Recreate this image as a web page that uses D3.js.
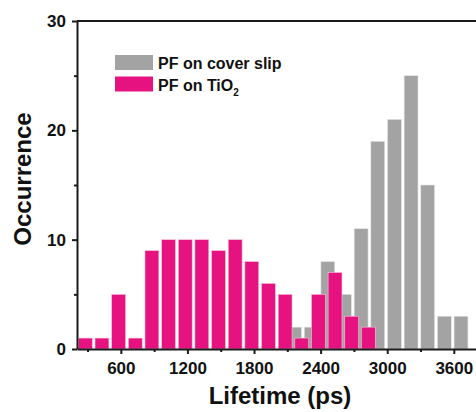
<!DOCTYPE html>
<html>
<head>
<meta charset="utf-8">
<script src="https://cdn.jsdelivr.net/npm/d3@7"></script>
<style>
  html, body { margin: 0; padding: 0; background: #fff; }
  svg text { font-family: "Liberation Sans", Arial, sans-serif; font-weight: bold; fill: #111; }
</style>
</head>
<body>
<script>
/* histogram bins (bin centre, ps) and counts */
const pinkLifetime = [280, 430, 580, 730, 880, 1030, 1180, 1330, 1480, 1630, 1780, 1930, 2080, 2230, 2380, 2530, 2680, 2830];
const pinkCount = [1, 1, 5, 1, 9, 10, 10, 10, 9, 10, 8, 6, 5, 1, 5, 7, 3, 2];
const grayLifetime = [2165, 2315, 2465, 2615, 2765, 2915, 3065, 3215, 3365, 3515, 3665];
const grayCount = [2, 2, 8, 5, 11, 19, 21, 25, 15, 3, 3];
const xTicks = [600, 1200, 1800, 2400, 3000, 3600];
const xMinorTicks = [300, 900, 1500, 2100, 2700, 3300];
const yTicks = [0, 10, 20, 30];
const yMinorTicks = [5, 15, 25];
const legendLabels = ['PF on cover slip', 'PF on TiO'];
const binWidth = 125;

let width = 476;
let height = 412;
let plot = { left: 77, right: 476, top: 21, bottom: 349 };

let x = d3.scaleLinear().domain([205, 3800]).range([plot.left, plot.right]);
let y = d3.scaleLinear().domain([0, 30]).range([plot.bottom, plot.top]);

let svg = d3.select('body').append('svg')
    .attr('width', width)
    .attr('height', height);

/* bars: cover slip behind, TiO2 in front */
let barW = x(binWidth) - x(0);
svg.append('g').selectAll('rect')
    .data(grayLifetime.map((t, i) => ({ t, c: grayCount[i] })))
    .join('rect')
    .attr('x', d => x(d.t) - barW / 2)
    .attr('y', d => y(d.c))
    .attr('width', barW)
    .attr('height', d => y(0) - y(d.c))
    .attr('fill', '#a3a3a3')
    .attr('stroke', '#e4e4e4')
    .attr('stroke-width', 0.6);

svg.append('g').selectAll('rect')
    .data(pinkLifetime.map((t, i) => ({ t, c: pinkCount[i] })))
    .join('rect')
    .attr('x', d => x(d.t) - barW / 2)
    .attr('y', d => y(d.c))
    .attr('width', barW)
    .attr('height', d => y(0) - y(d.c))
    .attr('fill', '#e6127f')
    .attr('stroke', '#f6c6dc')
    .attr('stroke-width', 0.6);

/* axes */
svg.append('g')
    .attr('transform', `translate(0, ${plot.bottom})`)
    .call(d3.axisBottom(x).tickValues(xTicks).tickFormat(d3.format('d'))
        .tickSize(5).tickPadding(8).tickSizeOuter(0));
svg.append('g')
    .attr('transform', `translate(0, ${plot.bottom})`)
    .call(d3.axisBottom(x).tickValues(xMinorTicks).tickSize(3).tickFormat('').tickSizeOuter(0))
    .select('.domain').remove();

svg.append('g')
    .attr('transform', `translate(${plot.left}, 0)`)
    .call(d3.axisLeft(y).tickValues(yTicks).tickSize(5).tickPadding(6).tickSizeOuter(0));
svg.append('g')
    .attr('transform', `translate(${plot.left}, 0)`)
    .call(d3.axisLeft(y).tickValues(yMinorTicks).tickSize(3).tickFormat('').tickSizeOuter(0))
    .select('.domain').remove();

svg.selectAll('.domain, .tick line').attr('stroke', '#1a1a1a').attr('stroke-width', 2);
svg.selectAll('.tick text')
    .style('font-family', '"Liberation Sans", Arial, sans-serif')
    .style('font-weight', 'bold')
    .style('font-size', '17px')
    .attr('fill', '#111');

/* top frame line */
svg.append('line')
    .attr('x1', plot.left).attr('x2', plot.right)
    .attr('y1', plot.top).attr('y2', plot.top)
    .attr('stroke', '#1a1a1a').attr('stroke-width', 2);

/* axis titles */
svg.append('text')
    .attr('x', 280).attr('y', 404)
    .attr('text-anchor', 'middle')
    .style('font-size', '24px')
    .text('Lifetime (ps)');

svg.append('text')
    .attr('transform', 'translate(31, 179) rotate(-90)')
    .attr('text-anchor', 'middle')
    .style('font-size', '24px')
    .text('Occurrence');

/* legend */
let legend = svg.append('g');
let legendColors = ['#a3a3a3', '#e6127f'];
legendLabels.forEach((label, i) => {
    let ly = 55 + i * 21.5;
    legend.append('rect')
        .attr('x', 115).attr('y', ly)
        .attr('width', 38).attr('height', 15)
        .attr('fill', legendColors[i]);
    let t = legend.append('text')
        .attr('x', 158).attr('y', ly + 14)
        .style('font-size', '16px')
        .text(label);
    if (i === 1) {
        t.append('tspan')
            .attr('dy', 5)
            .style('font-size', '10px')
            .text('2');
    }
});
</script>
</body>
</html>
